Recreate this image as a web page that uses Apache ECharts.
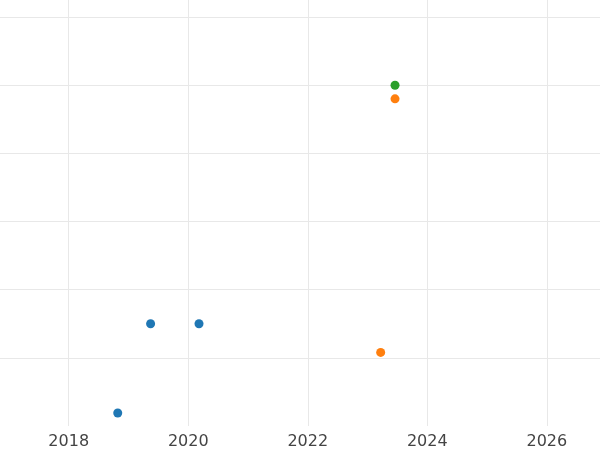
<!DOCTYPE html>
<html>
<head>
<meta charset="utf-8">
<script src="https://cdn.jsdelivr.net/npm/echarts@6/dist/echarts.min.js"></script>
<style>html,body{margin:0;padding:0;background:#fff}#chart{width:600px;height:450px}</style>
</head>
<body>
<div id="chart"></div>
<script>
// x as decimal years, y in grid units
var yearTicks = [2018, 2020, 2022, 2024, 2026];
var blueX = [2018.82, 2019.37, 2020.18];
var blueY = [0.19, 1.5, 1.5];
var orangeX = [2023.22, 2023.46];
var orangeY = [1.08, 4.8];
var greenX = [2023.46];
var greenY = [5.0];

function pairs(xs, ys) {
	return xs.map(function(x, i) { return [x, ys[i]]; });
}

var myChart = echarts.init(document.getElementById('chart'));
var option = {
	animation: false,
	grid: { left: 0, right: 0, top: 0, bottom: 24 },
	xAxis: {
		type: 'value',
		min: 2016.85,
		max: 2026.89,
		axisLine: { show: false },
		axisTick: { show: false, customValues: yearTicks },
		axisLabel: {
			customValues: yearTicks,
			color: '#444',
			fontSize: 16,
			margin: 8,
			fontFamily: 'DejaVu Sans',
			formatter: function(v) { return String(Math.round(v)); }
		},
		splitLine: { show: true, lineStyle: { color: '#e8e8e8', width: 1 } }
	},
	yAxis: {
		type: 'value',
		min: 0,
		max: 6.25,
		interval: 1,
		axisLine: { show: false },
		axisTick: { show: false },
		axisLabel: { show: false },
		splitLine: { showMinLine: false, showMaxLine: false, lineStyle: { color: '#e8e8e8', width: 1 } }
	},
	series: [
		{ type: 'scatter', symbolSize: 9, itemStyle: { color: '#1f77b4', opacity: 1 }, data: pairs(blueX, blueY) },
		{ type: 'scatter', symbolSize: 9, itemStyle: { color: '#ff7f0e', opacity: 1 }, data: pairs(orangeX, orangeY) },
		{ type: 'scatter', symbolSize: 9, itemStyle: { color: '#2ca02c', opacity: 1 }, data: pairs(greenX, greenY) }
	]
};
myChart.setOption(option);
</script>
</body>
</html>
